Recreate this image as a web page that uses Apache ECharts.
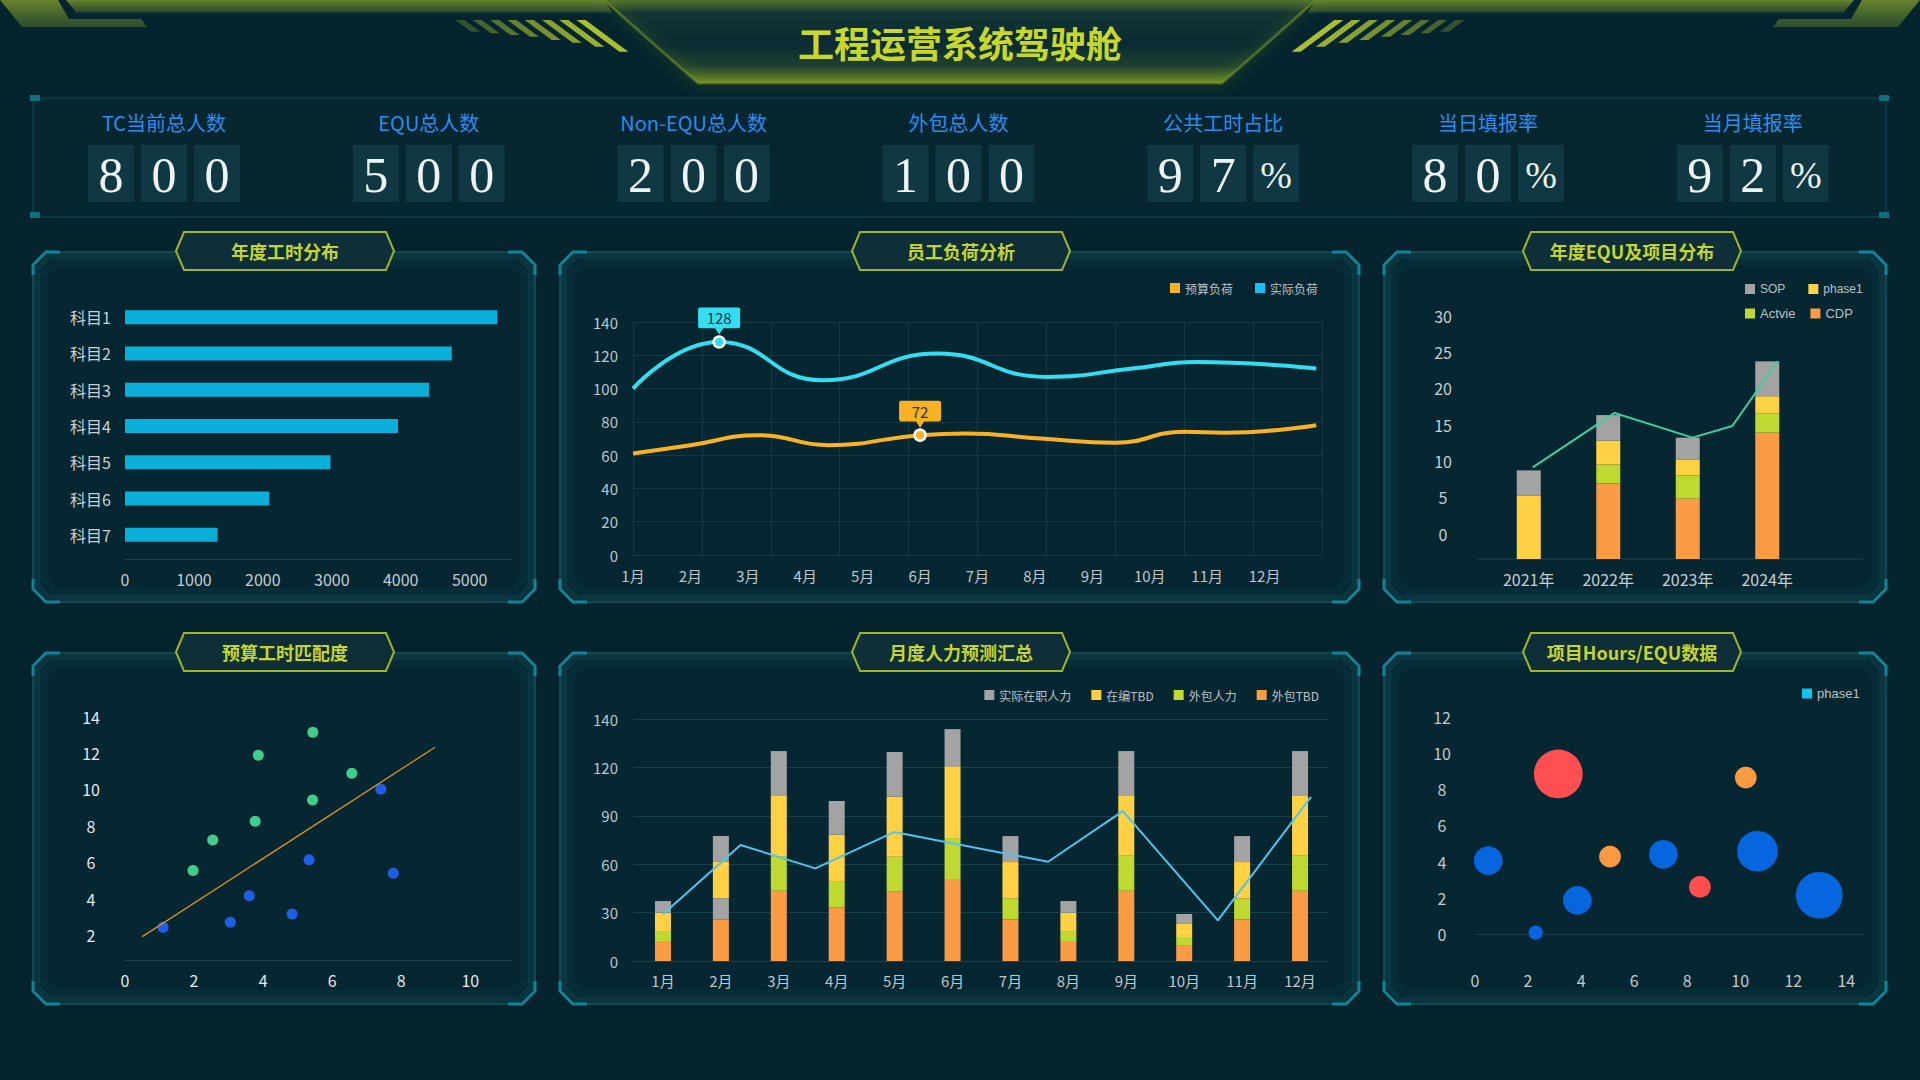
<!DOCTYPE html>
<html><head><meta charset="utf-8">
<script src="https://cdn.jsdelivr.net/npm/echarts@6/dist/echarts.min.js"></script>
<style>html,body{margin:0;padding:0;background:#05242e;overflow:hidden}#c{width:1920px;height:1080px}</style>
</head><body><div id="c"></div>
<script>
// ---------------- DATA ----------------
const pageTitle = '工程运营系统驾驶舱';
const kpiNames = ['TC当前总人数','EQU总人数','Non-EQU总人数','外包总人数','公共工时占比','当日填报率','当月填报率'];
const kpiValues = [800, 500, 200, 100, 97, 80, 92];
const kpiUnits = ['', '', '', '', '%', '%', '%'];
const panelTitles = ['年度工时分布','员工负荷分析','年度EQU及项目分布','预算工时匹配度','月度人力预测汇总','项目Hours/EQU数据'];

// 年度工时分布
const subjects = ['科目1','科目2','科目3','科目4','科目5','科目6','科目7'];
const subjectHours = [5400, 4740, 4410, 3960, 2980, 2090, 1340];

// 员工负荷分析 (x = month position, 0 = 1月)
const monthLabels = ['1月','2月','3月','4月','5月','6月','7月','8月','9月','10月','11月','12月'];
const budgetLoad = [[0,61],[1,66],[2.2,72],[3.4,66],[5,72],[5.8,73],[7.1,70],[8.4,67.5],[9.6,74],[10.3,73.5],[11.9,78]];
const actualLoad = [[0,100],[1.5,128],[3.3,105],[5.3,121],[7.2,107],[8.7,112],[9.8,116],[11.9,112]];
const budgetMark = [5, 72];
const actualMark = [1.5, 128];

// 年度EQU及项目分布
const years = ['2021年','2022年','2023年','2024年'];
const sopValues = [3.5, 3.5, 3.0, 4.8];
const phase1Values = [8.7, 3.3, 2.2, 2.4];
const actvieValues = [0, 2.6, 3.2, 2.6];
const cdpValues = [0, 10.4, 8.3, 17.4];
const equTrend = [[0.05,12.6],[1.08,20.1],[2.06,16.7],[2.56,18.3],[3.13,27.2]];

// 预算工时匹配度
const matchHigh = [[5.44,13.14],[3.86,11.88],[6.57,10.89],[5.43,9.42],[3.77,8.25],[2.54,7.22],[1.97,5.54]];
const matchLow = [[1.10,2.42],[3.05,2.70],[3.60,4.16],[4.84,3.15],[5.33,6.14],[7.41,10.01],[7.77,5.39]];
const matchFit = [[0.5,1.91],[8.98,12.32]];

// 月度人力预测汇总
const staffActual = [7.2, 16.1, 27.5, 20.9, 27.6, 23.1, 16.1, 7.2, 27.5, 6.2, 16.1, 27.5];
const staffActualLower = [0, 13.1, 0, 0, 0, 0, 0, 0, 0, 0, 0, 0];
const staffTbd = [11.4, 22.6, 37.7, 28.8, 37.4, 44.5, 22.7, 11.4, 37.5, 8.1, 22.7, 37.5];
const outsourceStaff = [6.2, 0, 21.5, 16.5, 21.7, 25.4, 12.9, 6.2, 21.7, 5.0, 12.9, 21.7];
const outsourceTbd = [12.4, 25.8, 43.6, 33.1, 43.0, 50.9, 25.8, 12.4, 43.6, 9.9, 25.8, 43.6];
const manpowerTrend = [[0,29],[1.34,72],[2.63,57.5],[3.99,80],[6.65,61.6],[7.94,93],[9.58,25.2],[11.19,101.9]];
const manpowerTickLabels = ['0','30','60','90','120','140'];

// 项目Hours/EQU数据: [x, y, size, level]
const bubbleData = [
  [3.14, 8.84, 95, 2], [10.21, 8.64, 19, 1], [0.50, 4.06, 33, 0], [5.09, 4.28, 19, 1],
  [7.10, 4.41, 33, 0], [10.65, 4.58, 66, 0], [8.48, 2.61, 19, 2], [3.86, 1.87, 33, 0],
  [2.29, 0.09, 8, 0], [12.98, 2.15, 87, 0]
];

// ---------------- STYLE ----------------
const BG = '#05242e';
const CJK = '"Noto Sans CJK SC", "Noto Sans", sans-serif';
const LAT = '"Liberation Sans", Arial, sans-serif';
const C_GRAY = '#a3a3a3', C_YEL = '#ffd143', C_GRN = '#c0d930', C_ORG = '#fb9b44';
const C_CYAN = '#33def2', C_AMB = '#fbb124';
const levelColors = ['#0566e0', '#fb9a40', '#ff4f50'];
const axisLineColor = '#1f424c';
const gridColor = '#163942';

// ---------------- GRAPHICS ----------------
const G = [];
function poly(points, style, z) { G.push({type:'polygon', shape:{points:points}, style:style, z:(z==null?-10:z), silent:true}); }
function pline(points, style, z) { G.push({type:'polyline', shape:{points:points}, style:Object.assign({fill:'none'}, style), z:(z==null?-8:z), silent:true}); }
function rect(x,y,w,h,style,z) { G.push({type:'rect', shape:{x:x,y:y,width:w,height:h}, style:style, z:(z==null?-8:z), silent:true}); }
function text(str,x,y,font,fill,z) {
  G.push({type:'text', x:x, y:y, z:(z==null?5:z), silent:true,
    style:{text:str, font:font, fill:fill, align:'center', verticalAlign:'middle', textAlign:'center', textVerticalAlign:'middle'}});
}
function lin(stops, x2, y2) { return {type:'linear', x:0, y:0, x2:(x2==null?0:x2), y2:(y2==null?1:y2), colorStops:stops.map(s=>({offset:s[0], color:s[1]}))}; }
const mirror = pts => pts.map(p => [1920 - p[0], p[1]]);

// header
const oliveGrad = lin([[0,'rgba(120,150,45,0.85)'],[1,'rgba(62,92,44,0.7)']]);
const cornerL = [[0,0],[58,0],[69,19],[141,19],[147,27],[22,27]];
poly(cornerL, {fill:oliveGrad});
poly(mirror(cornerL), {fill:oliveGrad});
const bandL = [[66,0],[604,0],[612,12],[76,12]];
poly(bandL, {fill:oliveGrad});
poly(mirror(bandL), {fill:oliveGrad});
pline([[76,13],[612,13]], {stroke:'rgba(20,70,80,0.8)', lineWidth:1});
pline(mirror([[76,13],[612,13]]), {stroke:'rgba(20,70,80,0.8)', lineWidth:1});
const trap = [[604,0],[1316,0],[1222,83],[698,83]];
poly(trap, {fill: lin([[0,'rgba(90,120,42,0.9)'],[0.16,'rgba(18,52,50,1)'],[0.55,'rgba(10,44,50,1)'],[0.8,'rgba(32,66,46,1)'],[1,'rgba(108,138,36,1)']])});
pline([[604,0],[698,83],[1222,83],[1316,0]], {stroke:'rgba(125,155,40,0.5)', lineWidth:3, shadowBlur:14, shadowColor:'rgba(150,190,40,0.8)'}, -7);
// stripes
const stripeBottoms = [31.7,33.3,35,36.7,40,42.7,46.7,51.7];
for (let i = 0; i < 8; i++) {
  const x = 455.5 + 17.3 * i, yb = stripeBottoms[i], s = 1.35 * (yb - 20), w = 9;
  const pts = [[x,20],[x+w,20],[x+w+s,yb],[x+s,yb]];
  const col = 'rgba(168,192,50,' + (0.3 + 0.1 * i).toFixed(2) + ')';
  poly(pts, {fill:col}, -7);
  poly(mirror(pts), {fill:col}, -7);
}
text(pageTitle, 960, 42, 'bold 36px ' + CJK, '#c8d72c', 6);

// KPI box
rect(33, 98, 1853, 119, {fill:'rgba(8,42,52,0.35)', stroke:'rgba(22,88,102,0.75)', lineWidth:1}, -9);
[[30,95],[30,212],[1879,95],[1879,212]].forEach(p => rect(p[0], p[1], 10, 6, {fill:'#0f707d'}, -7));
const boxW = 46, boxGap = 7;
kpiNames.forEach((name, i) => {
  const cx = 164 + 264.8 * i;
  text(name, cx, 122, '20px ' + CJK, '#2b8def', 5);
  const chars = (String(kpiValues[i]) + kpiUnits[i]).split('');
  const total = chars.length * boxW + (chars.length - 1) * boxGap;
  const x0 = cx - total / 2;
  chars.forEach((ch, j) => {
    const bx = x0 + j * (boxW + boxGap);
    rect(bx, 145, boxW, 57, {fill:'#103842'}, -6);
    text(ch, bx + boxW / 2, 175, (ch === '%' ? '38px ' : '50px ') + '"Liberation Serif", "DejaVu Serif", serif', '#eef3f4', 5);
  });
});

// panels
const panels = [[33,252,535,602],[560,252,1359,602],[1384,252,1886,602],[33,653,535,1004],[560,653,1359,1004],[1384,653,1886,1004]];
const badgeX = [285, 961, 1632, 285, 961, 1632];
function chamfer(p, inset, c) {
  const x0 = p[0] + inset, y0 = p[1] + inset, x1 = p[2] - inset, y1 = p[3] - inset;
  return [[x0+c,y0],[x1-c,y0],[x1,y0+c],[x1,y1-c],[x1-c,y1],[x0+c,y1],[x0,y1-c],[x0,y0+c]];
}
panels.forEach((p, i) => {
  const c = 13;
  poly(chamfer(p, 0, c), {fill:'#062731', stroke:'rgba(22,98,114,0.6)', lineWidth:2}, -10);
  poly(chamfer(p, 4, c), {fill:'rgba(0,0,0,0)', stroke:'rgba(22,98,114,0.25)', lineWidth:6}, -9);
  poly(chamfer(p, 10, c), {fill:'rgba(0,0,0,0)', stroke:'rgba(22,98,114,0.1)', lineWidth:8}, -9);
  const [x0,y0,x1,y1] = p;
  const acc = {stroke:'#118594', lineWidth:3};
  pline([[x0,y0+c+10],[x0,y0+c],[x0+c,y0],[x0+c+14,y0]], acc, -7);
  pline([[x1-c-14,y0],[x1-c,y0],[x1,y0+c],[x1,y0+c+10]], acc, -7);
  pline([[x0,y1-c-10],[x0,y1-c],[x0+c,y1],[x0+c+14,y1]], acc, -7);
  pline([[x1-c-14,y1],[x1-c,y1],[x1,y1-c],[x1,y1-c-10]], acc, -7);
  const cx = badgeX[i], cy = y0 - 1;
  poly([[cx-109,cy],[cx-101,cy-19],[cx+101,cy-19],[cx+109,cy],[cx+101,cy+19],[cx-101,cy+19]],
       {fill:'#0f2f38', stroke:'#9db427', lineWidth:2}, -5);
  text(panelTitles[i], cx, cy, 'bold 18px ' + CJK, '#c4d52e', 6);
});
// extra axis line under 年度EQU bars
pline([[1477,559],[1863,559]], {stroke:axisLineColor, lineWidth:1}, -4);

// ---------------- CHART ----------------
const lab = (o) => Object.assign({fontFamily:CJK, fontSize:15, color:'#bcc6ca'}, o);
const noLine = {show:false}, noTick = {show:false}, noSplit = {show:false};
const callout = 'path://M2,0 H40 Q42,0 42,2 V18 Q42,20 40,20 H25 L21,26 L17,20 H2 Q0,20 0,18 V2 Q0,0 2,0 Z';
function marks(coord, color) {
  return {silent:true, animation:false, data:[
    {coord:coord, value:coord[1], symbol:'circle', symbolSize:11, itemStyle:{color:color, borderColor:'#ffffff', borderWidth:2.5}, label:{show:false}},
    {coord:coord, value:coord[1], symbol:callout, symbolSize:[42,27], symbolOffset:[0,-21], itemStyle:{color:color},
     label:{show:true, position:'inside', offset:[0,-3], color:'#173640', fontSize:15, fontFamily:CJK, formatter:'{c}'}}
  ]};
}
const legendText = (ff, fs) => ({color:'#b8c2c6', fontSize:fs || 12, fontFamily:ff || CJK});

const option = {
  backgroundColor: BG,
  animation: false,
  graphic: {elements: G},
  grid: [
    {left:125, top:299, width:386, height:254},
    {left:633, top:322, width:689, height:233},
    {left:1489, top:341, width:318, height:218},
    {left:125, top:716.7, width:386, height:243.3},
    {left:634, top:719.3, width:695, height:241.7},
    {left:1475, top:716.7, width:388, height:243.3},
    {left:1489, top:315.7, width:318, height:218}
  ],
  xAxis: [
    {gridIndex:0, type:'value', min:0, max:5600, interval:1000, offset:6,
     axisLine:{show:true, lineStyle:{color:axisLineColor}}, axisTick:noTick, splitLine:noSplit,
     axisLabel:lab({fontSize:16, margin:12, showMaxLabel:false, color:'#c3cbcf', formatter:(v)=> String(v)})},
    {gridIndex:1, type:'value', min:0, max:12, interval:1, axisLine:noLine, axisTick:noTick, splitLine:noSplit,
     axisLabel:lab({margin:13, formatter:(v)=> monthLabels[Math.round(v)] || ''})},
    {gridIndex:1, type:'value', min:0, max:12, interval:1.2, axisLine:noLine, axisTick:noTick,
     axisLabel:{show:false}, splitLine:{show:true, lineStyle:{color:gridColor}}},
    {gridIndex:2, type:'category', data:years, axisLine:noLine, axisTick:noTick, axisLabel:lab({fontSize:16, margin:12, color:'#c6cdd0'})},
    {gridIndex:2, type:'value', min:-0.5, max:3.5, show:false},
    {gridIndex:3, type:'value', min:0, max:11.18, interval:2, axisLine:{show:true, lineStyle:{color:axisLineColor}},
     axisTick:noTick, splitLine:noSplit, axisLabel:lab({fontSize:16, margin:12, showMaxLabel:false, color:'#e4e8ea'})},
    {gridIndex:4, type:'category', data:monthLabels, axisLine:{show:true, lineStyle:{color:axisLineColor}}, axisTick:noTick,
     axisLabel:lab({margin:12})},
    {gridIndex:4, type:'value', min:-0.5, max:11.5, show:false},
    {gridIndex:5, type:'value', min:0, max:14.63, interval:2, axisLine:{show:true, lineStyle:{color:axisLineColor}},
     axisTick:noTick, splitLine:noSplit, axisLabel:lab({fontSize:16, margin:12, showMaxLabel:false, color:'#c2c9cc'})},
    {gridIndex:6, type:'value', min:0, max:1, show:false}
  ],
  yAxis: [
    {gridIndex:0, type:'category', data:subjects, inverse:true, axisLine:noLine, axisTick:noTick,
     axisLabel:lab({fontSize:16, margin:14, color:'#c8cfd2'})},
    {gridIndex:1, type:'value', min:0, max:140, interval:20, axisLine:noLine, axisTick:noTick,
     splitLine:{show:true, lineStyle:{color:gridColor}}, axisLabel:lab({margin:15})},
    {gridIndex:2, type:'value', min:0, max:30, interval:5, axisLine:noLine, axisTick:noTick, splitLine:noSplit,
     axisLabel:{show:false}},
    {gridIndex:3, type:'value', min:0.626, max:14, splitNumber:6, axisLine:noLine, axisTick:noTick, splitLine:noSplit,
     axisLabel:lab({fontSize:16, align:'center', margin:34, showMinLabel:false, color:'#e4e8ea'})},
    {gridIndex:4, type:'value', min:0, max:150, interval:30, axisLine:noLine, axisTick:noTick,
     splitLine:{show:true, lineStyle:{color:'#18404a'}}, axisLabel:lab({margin:16, formatter:(v)=> manpowerTickLabels[Math.round(v/30)]})},
    {gridIndex:5, type:'value', min:-1.42, max:12, splitNumber:6, axisLine:noLine, axisTick:noTick, splitLine:noSplit,
     axisLabel:lab({fontSize:16, align:'center', margin:33, showMinLabel:false, color:'#c2c9cc'})},
    {gridIndex:6, type:'value', min:0, max:30, interval:5, axisLine:noLine, axisTick:noTick, splitLine:noSplit,
     axisLabel:lab({fontSize:16, align:'center', margin:46, color:'#c6cdd0'})}
  ],
  legend: [
    {data:[{name:'预算负荷', itemStyle:{color:C_AMB}}, {name:'实际负荷', itemStyle:{color:'#17bef0'}}],
     right:597, top:277, icon:'rect', itemWidth:10, itemHeight:10, itemGap:22, textStyle:legendText()},
    {data:[{name:'SOP', itemStyle:{color:C_GRAY}}, {name:'phase1', itemStyle:{color:C_YEL}}],
     left:1740, top:278, icon:'rect', itemWidth:10, itemHeight:10, itemGap:23, textStyle:legendText(LAT)},
    {data:[{name:'Actvie', itemStyle:{color:C_GRN}}, {name:'CDP', itemStyle:{color:C_ORG}}],
     left:1740, top:302, icon:'rect', itemWidth:10, itemHeight:10, itemGap:15, textStyle:legendText(LAT, 13)},
    {data:[{name:'实际在职人力', itemStyle:{color:C_GRAY}}, {name:'在编TBD', itemStyle:{color:C_YEL}},
           {name:'外包人力', itemStyle:{color:C_GRN}}, {name:'外包TBD', itemStyle:{color:C_ORG}}],
     right:596, top:684, icon:'rect', itemWidth:10, itemHeight:10, itemGap:20, textStyle:legendText()},
    {data:[{name:'phase1', itemStyle:{color:'#12c3f2'}}],
     left:1797, top:682, icon:'rect', itemWidth:10, itemHeight:10, textStyle:legendText(LAT, 13)}
  ],
  series: [
    {type:'bar', name:'年度工时', xAxisIndex:0, yAxisIndex:0, data:subjectHours, barWidth:14, itemStyle:{color:'#0aafda'}},

    {type:'line', name:'预算负荷', xAxisIndex:1, yAxisIndex:1, data:budgetLoad, smooth:true, symbol:'none',
     lineStyle:{color:C_AMB, width:4}, itemStyle:{color:C_AMB}, markPoint:marks(budgetMark, C_AMB)},
    {type:'line', name:'实际负荷', xAxisIndex:1, yAxisIndex:1, data:actualLoad, smooth:true, symbol:'none',
     lineStyle:{color:C_CYAN, width:4}, itemStyle:{color:C_CYAN}, markPoint:marks(actualMark, C_CYAN)},

    {type:'bar', name:'CDP', stack:'equ', xAxisIndex:3, yAxisIndex:2, data:cdpValues, barWidth:24, itemStyle:{color:C_ORG}},
    {type:'bar', name:'Actvie', stack:'equ', xAxisIndex:3, yAxisIndex:2, data:actvieValues, barWidth:24, itemStyle:{color:C_GRN}},
    {type:'bar', name:'phase1', stack:'equ', xAxisIndex:3, yAxisIndex:2, data:phase1Values, barWidth:24, itemStyle:{color:C_YEL}},
    {type:'bar', name:'SOP', stack:'equ', xAxisIndex:3, yAxisIndex:2, data:sopValues, barWidth:24, itemStyle:{color:C_GRAY}},
    {type:'line', name:'EQU趋势', xAxisIndex:4, yAxisIndex:2, data:equTrend, symbol:'none', lineStyle:{color:'#3dcf9f', width:2}},

    {type:'scatter', name:'匹配-高', xAxisIndex:5, yAxisIndex:3, data:matchHigh, symbolSize:11, itemStyle:{color:'#3fcf8b', opacity:1}},
    {type:'scatter', name:'匹配-低', xAxisIndex:5, yAxisIndex:3, data:matchLow, symbolSize:11, itemStyle:{color:'#1f5fe8', opacity:1}},
    {type:'line', name:'拟合', xAxisIndex:5, yAxisIndex:3, data:matchFit, symbol:'none', lineStyle:{color:'#d8921a', width:1.3}},

    {type:'bar', name:'外包TBD', stack:'mp', xAxisIndex:6, yAxisIndex:4, data:outsourceTbd, barWidth:16, itemStyle:{color:C_ORG}},
    {type:'bar', name:'实际在职人力', stack:'mp', xAxisIndex:6, yAxisIndex:4, data:staffActualLower, barWidth:16, itemStyle:{color:C_GRAY}},
    {type:'bar', name:'外包人力', stack:'mp', xAxisIndex:6, yAxisIndex:4, data:outsourceStaff, barWidth:16, itemStyle:{color:C_GRN}},
    {type:'bar', name:'在编TBD', stack:'mp', xAxisIndex:6, yAxisIndex:4, data:staffTbd, barWidth:16, itemStyle:{color:C_YEL}},
    {type:'bar', name:'实际在职人力', stack:'mp', xAxisIndex:6, yAxisIndex:4, data:staffActual, barWidth:16, itemStyle:{color:C_GRAY}},
    {type:'line', name:'人力趋势', xAxisIndex:7, yAxisIndex:4, data:manpowerTrend, symbol:'none', lineStyle:{color:'#4ec4f0', width:2}},

    {type:'scatter', name:'phase1', xAxisIndex:8, yAxisIndex:5, data:bubbleData,
     symbolSize:(d)=> Math.sqrt(d[2]) * 5, itemStyle:{opacity:1, color:(p)=> levelColors[p.data[3]]}}
  ]
};

const chart = echarts.init(document.getElementById('c'), null, {renderer:'svg', width:1920, height:1080});
chart.setOption(option);
</script>
</body></html>
